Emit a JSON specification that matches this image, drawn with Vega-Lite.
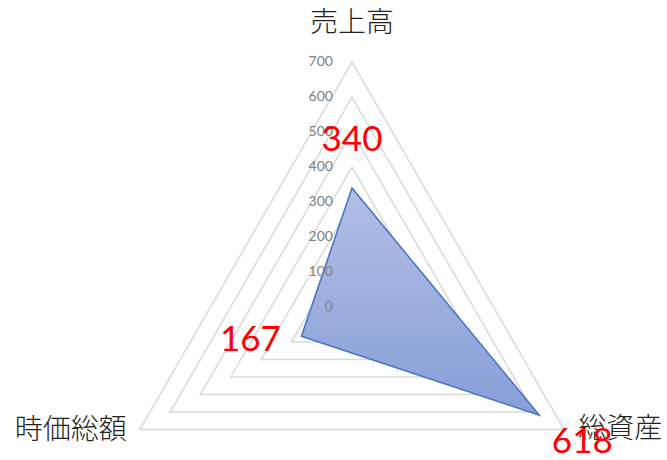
{
  "$schema": "https://vega.github.io/schema/vega-lite/v6.json",
  "width": 667,
  "height": 460,
  "padding": 0,
  "autosize": {"type": "none"},
  "datasets": {
    "vals": [
      {"cat": "売上高", "idx": 0, "value": 340},
      {"cat": "総資産", "idx": 1, "value": 618},
      {"cat": "時価総額", "idx": 2, "value": 167}
    ],
    "grid": [
      {"level": 100, "idx": [0, 1, 2]},
      {"level": 200, "idx": [0, 1, 2]},
      {"level": 300, "idx": [0, 1, 2]},
      {"level": 400, "idx": [0, 1, 2]},
      {"level": 500, "idx": [0, 1, 2]},
      {"level": 600, "idx": [0, 1, 2]},
      {"level": 700, "idx": [0, 1, 2]}
    ],
    "ticks": [
      {"level": 0}, {"level": 100}, {"level": 200}, {"level": 300},
      {"level": 400}, {"level": 500}, {"level": 600}, {"level": 700}
    ]
  },
  "encoding": {
    "x": {"field": "x", "type": "quantitative", "axis": null,
      "scale": {"domain": [-1005.714, 900], "nice": false, "zero": false}},
    "y": {"field": "y", "type": "quantitative", "axis": null,
      "scale": {"domain": [-437.143, 877.143], "nice": false, "zero": false}}
  },
  "layer": [
    {
      "data": {"name": "grid"},
      "transform": [
        {"flatten": ["idx"]},
        {"calculate": "PI / 2 - datum.idx * 2 * PI / 3", "as": "ang"},
        {"calculate": "datum.level * cos(datum.ang)", "as": "x"},
        {"calculate": "datum.level * sin(datum.ang)", "as": "y"}
      ],
      "mark": {"type": "line", "interpolate": "linear-closed", "stroke": "#d9d9d9", "strokeWidth": 1.5},
      "encoding": {
        "detail": {"field": "level"},
        "order": {"field": "idx"}
      }
    },
    {
      "data": {"name": "vals"},
      "transform": [
        {"calculate": "PI / 2 - datum.idx * 2 * PI / 3", "as": "ang"},
        {"calculate": "datum.value * cos(datum.ang)", "as": "x"},
        {"calculate": "datum.value * sin(datum.ang)", "as": "y"}
      ],
      "mark": {
        "type": "line",
        "interpolate": "linear-closed",
        "stroke": "#4472c4",
        "strokeWidth": 1.5,
        "fill": {
          "gradient": "linear", "x1": 0, "y1": 0, "x2": 0, "y2": 1,
          "stops": [
            {"offset": 0, "color": "#b2bfe4"},
            {"offset": 1, "color": "#889ed8"}
          ]
        }
      },
      "encoding": {"order": {"field": "idx"}}
    },
    {
      "data": {"name": "ticks"},
      "transform": [
        {"calculate": "0", "as": "x"},
        {"calculate": "datum.level", "as": "y"}
      ],
      "mark": {"type": "text", "align": "right", "baseline": "middle", "dx": -19,
        "font": "Lato", "fontSize": 14, "color": "#808080"},
      "encoding": {"text": {"field": "level"}}
    },
    {
      "data": {"name": "vals"},
      "transform": [
        {"filter": "datum.idx == 0"},
        {"calculate": "0", "as": "x"},
        {"calculate": "700", "as": "y"}
      ],
      "mark": {"type": "text", "align": "center", "baseline": "middle", "dy": -38,
        "font": "Noto Sans CJK JP", "fontWeight": 300, "fontSize": 28, "color": "#222222"},
      "encoding": {"text": {"field": "cat"}}
    },
    {
      "data": {"name": "vals"},
      "transform": [
        {"filter": "datum.idx == 1"},
        {"calculate": "700 * cos(PI / 6)", "as": "x"},
        {"calculate": "-350", "as": "y"}
      ],
      "mark": {"type": "text", "align": "center", "baseline": "middle", "dx": 56, "dy": 1,
        "font": "Noto Sans CJK JP", "fontWeight": 300, "fontSize": 28, "color": "#222222"},
      "encoding": {"text": {"field": "cat"}}
    },
    {
      "data": {"name": "vals"},
      "transform": [
        {"filter": "datum.idx == 2"},
        {"calculate": "-700 * cos(PI / 6)", "as": "x"},
        {"calculate": "-350", "as": "y"}
      ],
      "mark": {"type": "text", "align": "center", "baseline": "middle", "dx": -69, "dy": 2,
        "font": "Noto Sans CJK JP", "fontWeight": 300, "fontSize": 28, "color": "#222222"},
      "encoding": {"text": {"field": "cat"}}
    },
    {
      "data": {"name": "vals"},
      "transform": [
        {"filter": "datum.idx == 0"},
        {"calculate": "0", "as": "x"},
        {"calculate": "datum.value", "as": "y"}
      ],
      "mark": {"type": "text", "align": "center", "baseline": "middle", "dy": -48,
        "font": "Lato", "fontSize": 35, "color": "#ff0000"},
      "encoding": {"text": {"field": "value"}}
    },
    {
      "data": {"name": "vals"},
      "transform": [
        {"filter": "datum.idx == 1"},
        {"calculate": "datum.value * cos(PI / 6)", "as": "x"},
        {"calculate": "-datum.value / 2", "as": "y"}
      ],
      "mark": {"type": "text", "align": "center", "baseline": "middle", "dx": 43, "dy": 27,
        "font": "Lato", "fontSize": 35, "color": "#ff0000"},
      "encoding": {"text": {"field": "value"}}
    },
    {
      "data": {"name": "vals"},
      "transform": [
        {"filter": "datum.idx == 2"},
        {"calculate": "-datum.value * cos(PI / 6)", "as": "x"},
        {"calculate": "-datum.value / 2", "as": "y"}
      ],
      "mark": {"type": "text", "align": "center", "baseline": "middle", "dx": -51, "dy": 4,
        "font": "Lato", "fontSize": 35, "color": "#ff0000"},
      "encoding": {"text": {"field": "value"}}
    }
  ],
  "config": {"view": {"stroke": null}, "background": "#ffffff"}
}
